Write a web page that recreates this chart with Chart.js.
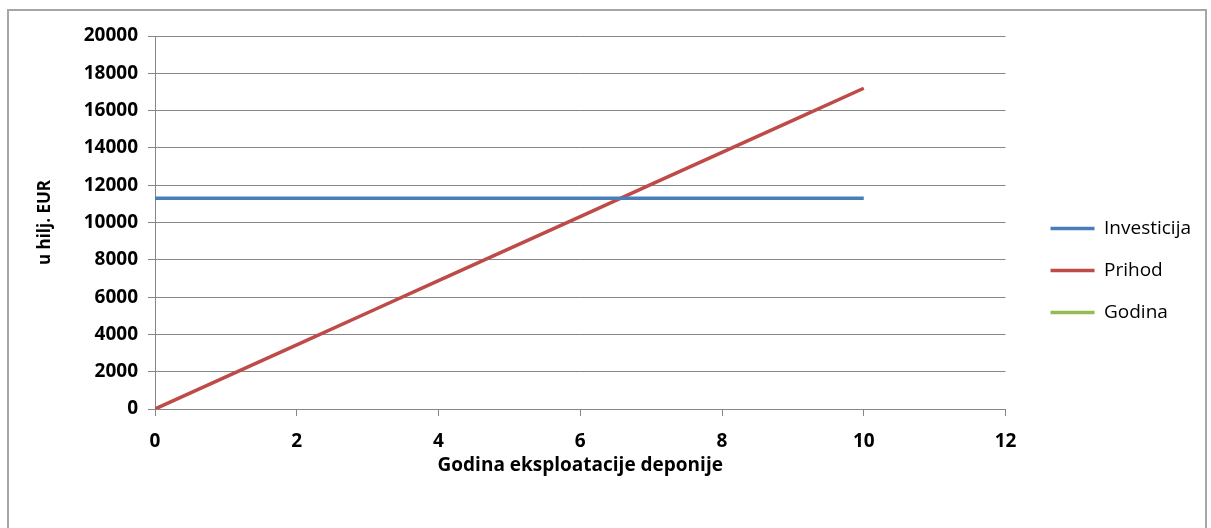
<!DOCTYPE html>
<html>
<head>
<meta charset="utf-8">
<script src="https://cdn.jsdelivr.net/npm/chart.js@4"></script>
<style>
  html, body { margin: 0; padding: 0; background: #fff; overflow: hidden; }
  #frame { position: absolute; left: 7px; top: 9px; width: 1200px; height: 540px; border: 2px solid #a6a6a6; box-sizing: border-box; }
  #c { position: absolute; left: 0; top: 0; }
</style>
</head>
<body>
<div id="frame"></div>
<canvas id="c" width="1211" height="528"></canvas>
<script>
const years = [0, 1, 2, 3, 4, 5, 6, 7, 8, 9, 10];
const investicija = [11300, 11300, 11300, 11300, 11300, 11300, 11300, 11300, 11300, 11300, 11300];
const prihod = [0, 1720, 3440, 5160, 6880, 8600, 10320, 12040, 13760, 15480, 17200];
const godina = [];
const seriesNames = ['Investicija', 'Prihod', 'Godina'];
const xTitle = 'Godina eksploatacije deponije';
const yTitle = 'u hilj. EUR';

const toXY = (vals) => vals.map((v, i) => ({ x: years[i], y: v }));
const fontFam = '"Open Sans", "Liberation Sans", sans-serif';

const legendShift = {
  id: 'legendShift',
  afterLayout(chart) {
    if (chart.legend) {
      chart.legend.top += 14; chart.legend.bottom += 14;
      chart.legend.left += 22; chart.legend.right += 22;
    }
  }
};

new Chart(document.getElementById('c'), {
  type: 'scatter',
  data: {
    datasets: [
      { label: seriesNames[0], data: toXY(investicija), showLine: true, borderColor: '#4A7EBB', backgroundColor: '#4A7EBB', borderWidth: 3.5, pointRadius: 0 },
      { label: seriesNames[1], data: toXY(prihod), showLine: true, borderColor: '#BE4B48', backgroundColor: '#BE4B48', borderWidth: 3.5, pointRadius: 0 },
      { label: seriesNames[2], data: toXY(godina), showLine: true, borderColor: '#98B954', backgroundColor: '#98B954', borderWidth: 3.5, pointRadius: 0 }
    ]
  },
  plugins: [legendShift],
  options: {
    responsive: false,
    animation: false,
    devicePixelRatio: 1,
    layout: { padding: { left: 35, top: 36, right: 32, bottom: 51 } },
    plugins: {
      tooltip: { enabled: false },
      legend: {
        position: 'right',
        align: 'center',
        labels: {
          usePointStyle: true,
          pointStyle: 'line',
          pointStyleWidth: 44,
          padding: 23,
          color: '#000',
          font: { family: fontFam, size: 19 }
        }
      }
    },
    scales: {
      x: {
        type: 'linear',
        min: 0, max: 12,
        ticks: { stepSize: 2, color: '#000', font: { family: fontFam, size: 19, weight: 'bold' }, padding: 14, callback: (v) => String(v) },
        grid: { drawOnChartArea: false, drawTicks: true, tickLength: 7, color: '#868686' },
        border: { color: '#868686' },
        title: { display: true, text: xTitle, color: '#000', font: { family: fontFam, size: 19, weight: 'bold' }, padding: { top: 0, bottom: 0 } },
        afterFit: (s) => { s.height = 68; }
      },
      y: {
        min: 0, max: 20000,
        ticks: { stepSize: 2000, color: '#000', font: { family: fontFam, size: 19, weight: 'bold' }, padding: 10, callback: (v) => String(v) },
        grid: { color: '#868686', tickLength: 7 },
        border: { color: '#868686' },
        title: { display: true, text: yTitle, color: '#000', font: { family: fontFam, size: 17, weight: 'bold' }, padding: { top: 0, bottom: 0 } },
        afterFit: (s) => { s.width = 120; }
      }
    }
  }
});
</script>
</body>
</html>
